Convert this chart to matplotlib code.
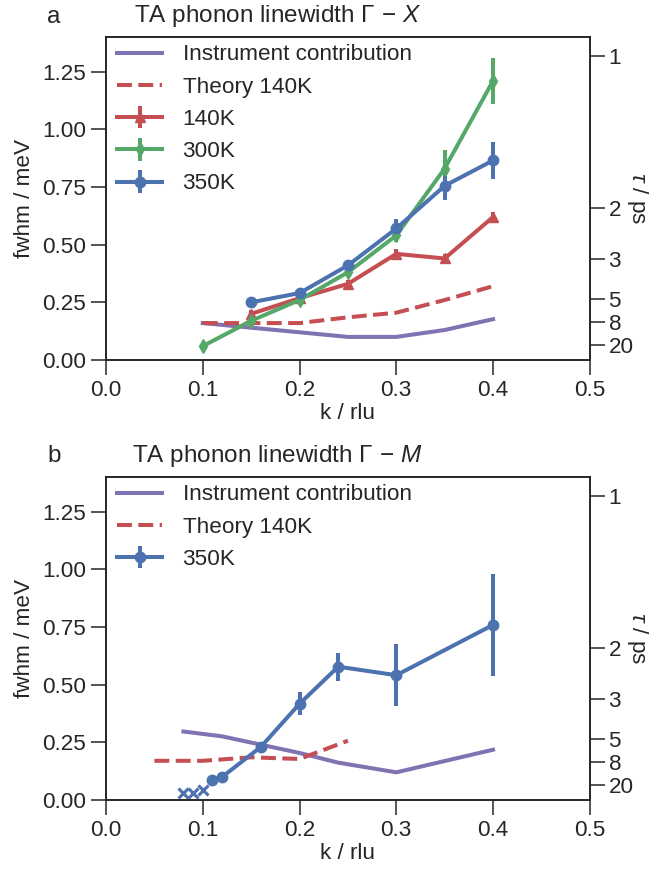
import numpy as np
import matplotlib
matplotlib.use('Agg')
import matplotlib.pyplot as plt

plt.rcParams['font.family'] = ['Liberation Sans', 'DejaVu Sans']
plt.rcParams['mathtext.fontset'] = 'custom'
plt.rcParams['mathtext.rm'] = 'Liberation Sans'
plt.rcParams['mathtext.it'] = 'Liberation Sans:italic'
plt.rcParams['text.color'] = '#262626'
plt.rcParams['axes.labelcolor'] = '#262626'
plt.rcParams['xtick.color'] = '#262626'
plt.rcParams['ytick.color'] = '#262626'

blue = '#4C72B0'
green = '#55A868'
red = '#C44E52'
purple = '#8172B2'

# panel a: Gamma - X
k_x = [0.1, 0.15, 0.2, 0.25, 0.3, 0.35, 0.4]
instr_x = [0.16, 0.14, 0.12, 0.10, 0.10, 0.13, 0.177]
theory_x = [0.16, 0.16, 0.16, 0.185, 0.205, 0.26, 0.32]

k_140 = [0.15, 0.2, 0.25, 0.3, 0.35, 0.4]
fw_140 = [0.20, 0.268, 0.33, 0.46, 0.44, 0.62]
err_140 = [0.015, 0.015, 0.015, 0.02, 0.02, 0.02]

k_300 = [0.1, 0.15, 0.2, 0.25, 0.3, 0.35, 0.4]
fw_300 = [0.06, 0.17, 0.26, 0.38, 0.54, 0.83, 1.21]
err_300 = [0.01, 0.015, 0.02, 0.02, 0.03, 0.08, 0.10]

k_350 = [0.15, 0.2, 0.25, 0.3, 0.35, 0.4]
fw_350 = [0.25, 0.29, 0.41, 0.57, 0.755, 0.865]
err_350 = [0.01, 0.01, 0.02, 0.04, 0.06, 0.08]

# panel b: Gamma - M
k_m_instr = [0.08, 0.12, 0.16, 0.2, 0.24, 0.3, 0.4]
instr_m = [0.297, 0.276, 0.24, 0.204, 0.162, 0.12, 0.218]
k_m_theory = [0.05, 0.1, 0.15, 0.2, 0.25]
theory_m = [0.17, 0.17, 0.185, 0.178, 0.257]
k_m_350 = [0.11, 0.12, 0.16, 0.2, 0.24, 0.3, 0.4]
fw_m_350 = [0.087, 0.10, 0.23, 0.417, 0.578, 0.541, 0.759]
err_m_350 = [0.0, 0.0, 0.02, 0.05, 0.06, 0.135, 0.22]
k_m_cross = [0.08, 0.09, 0.1]
fw_m_cross = [0.03, 0.03, 0.045]

tau_ticks = [1, 2, 3, 5, 8, 20]

fig = plt.figure(figsize=(6.52, 8.71), dpi=100)
ax1 = fig.add_axes([0.1626, 0.5867, 0.742, 0.3708])
ax2 = fig.add_axes([0.1626, 0.0815, 0.742, 0.3708])

lw = 2.9
fs = 16.2
ms = 7.5


def style(ax, title, letter, yletter):
    ax.set_xlim(0, 0.5)
    ax.set_ylim(0, 1.4)
    ax.set_xticks([0, 0.1, 0.2, 0.3, 0.4, 0.5])
    ax.set_xticklabels(['0.0', '0.1', '0.2', '0.3', '0.4', '0.5'])
    ax.set_yticks([0, 0.25, 0.5, 0.75, 1.0, 1.25])
    ax.set_yticklabels(['0.00', '0.25', '0.50', '0.75', '1.00', '1.25'])
    ax.tick_params(direction='out', length=10.5, width=1.1, labelsize=fs, pad=4)
    for s in ax.spines.values():
        s.set_linewidth(1.2)
        s.set_color('#262626')
    ax.set_xlabel('k / rlu', fontsize=fs, labelpad=1)
    ax.set_ylabel('fwhm / meV', fontsize=fs, labelpad=5)
    ax.text(0.355, 1.025, title, transform=ax.transAxes, ha='center', va='bottom', fontsize=17.5)
    fig.text(0.083, yletter, letter, ha='center', va='center', fontsize=17.5)
    tx = ax.twinx()
    tx.set_ylim(0, 1.4)
    tx.set_yticks([1.316 / t for t in tau_ticks])
    tx.set_yticklabels([str(t) for t in tau_ticks])
    tx.tick_params(direction='out', length=10.5, width=1.1, labelsize=fs, pad=3)
    tx.set_ylabel(r'$\tau$ / ps', fontsize=fs, rotation=270)
    tx.yaxis.label.set_va('center')
    tx.yaxis.label.set_ha('center')
    tx.yaxis.set_label_coords(1.099, 0.5)
    for s in tx.spines.values():
        s.set_linewidth(1.2)
        s.set_color('#262626')
    ax.legend(loc='upper left', frameon=False, fontsize=fs, handlelength=2.0,
              labelspacing=0.5, borderaxespad=0.1, handletextpad=0.9,
              bbox_to_anchor=(0.0, 1.012))


# panel a
ax1.plot(k_x, instr_x, color=purple, lw=lw, label='Instrument contribution')
ax1.plot(k_x, theory_x, color=red, lw=lw, ls='--', label='Theory 140K')
ax1.errorbar(k_140, fw_140, yerr=err_140, color=red, lw=lw, marker='^', ms=ms,
             elinewidth=lw, capsize=0, label='140K')
ax1.errorbar(k_300, fw_300, yerr=err_300, color=green, lw=lw, marker='d', ms=ms,
             elinewidth=lw, capsize=0, label='300K')
ax1.errorbar(k_350, fw_350, yerr=err_350, color=blue, lw=lw, marker='o', ms=ms,
             elinewidth=lw, capsize=0, label='350K')
style(ax1, r'TA phonon linewidth $\Gamma\,-\,X$', 'a', 0.981)

# panel b
ax2.plot(k_m_instr, instr_m, color=purple, lw=lw, label='Instrument contribution')
ax2.plot(k_m_theory, theory_m, color=red, lw=lw, ls='--', label='Theory 140K')
ax2.errorbar(k_m_350, fw_m_350, yerr=err_m_350, color=blue, lw=lw, marker='o', ms=ms,
             elinewidth=lw, capsize=0, label='350K')
ax2.plot(k_m_cross, fw_m_cross, color=blue, ls='none', marker='x', ms=6.5, mew=2.2)
style(ax2, r'TA phonon linewidth $\Gamma\,-\,M$', 'b', 0.476)

fig.savefig('out.png', dpi=100)
